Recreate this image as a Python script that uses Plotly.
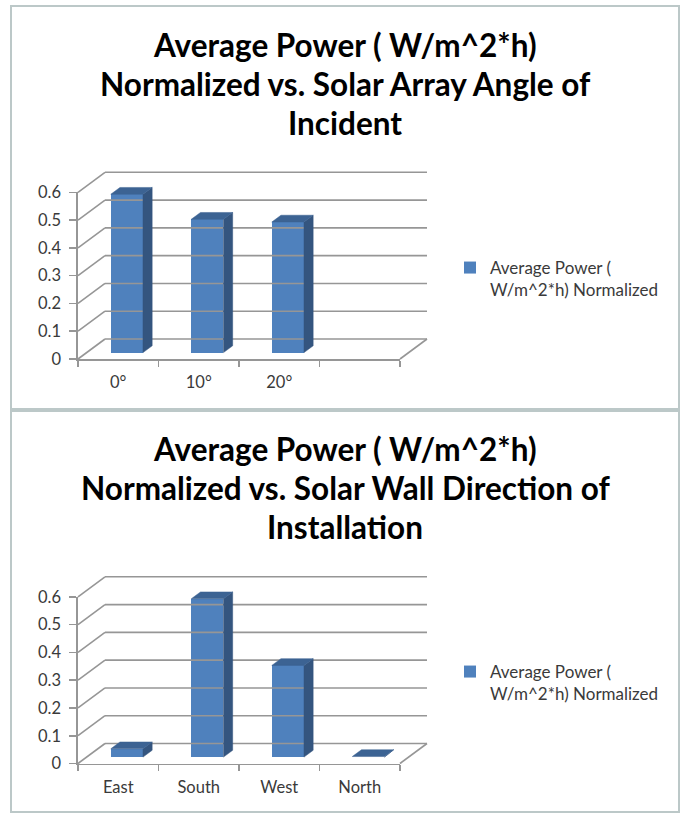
import plotly.graph_objects as go

# ---------------- data ----------------
angle_labels = ["0°", "10°", "20°", ""]
angle_power = [0.57, 0.48, 0.47, None]

direction_labels = ["East", "South", "West", "North"]
direction_power = [0.03, 0.57, 0.33, 0.002]

y_tick_vals = [0, 0.1, 0.2, 0.3, 0.4, 0.5, 0.6]
y_tick_text = ["0", "0.1", "0.2", "0.3", "0.4", "0.5", "0.6"]

series_name = "Average Power (<br>W/m^2*h) Normalized"
title_lines = [
    ["Average Power ( W/m^2*h)", "Normalized vs. Solar Array Angle of", "Incident"],
    ["Average Power ( W/m^2*h)", "Normalized vs. Solar Wall Direction of", "Installation"],
]

# ---------------- style / geometry ----------------
W, H = 684, 814
X0 = 78.0          # px of front-left axis
SX = 80.5          # px per category slot
SY = 277.8         # px per unit value
ZERO_PY = [359.0, 763.5]
TITLE_PY = [[45.0, 84.0, 123.0], [449.0, 488.0, 527.0]]
LEGEND_PY = [250.0, 654.0]
BOX_PY = [(6, 409), (411, 812)]
DXP, DYP = 27.0, 20.0   # oblique depth offset in px
F0, F1 = 0.32, 0.66     # bar depth start / end (fraction of depth)
BAR_W = 0.40

FRONT = "#4F81BD"
SIDE = "#34557F"
TOP = "#3C6393"
GRID = "#969696"
GRID_W = 1.6
FONT = "Lato"
TXT = "#3a3a3a"

dxu = DXP / SX
dyu = DYP / SY


def px_x(p):
    return p / W


def px_y(p):
    return 1 - p / H


fig = go.Figure()
layout = {}
shapes = []
annotations = []

charts = [(angle_labels, angle_power), (direction_labels, direction_power)]
n_slots = 4

for k, (labels, values) in enumerate(charts):
    Z = ZERO_PY[k]
    dx_id = 2 * k + 1
    lx_id = 2 * k + 2
    dname = "" if dx_id == 1 else str(dx_id)
    lname = str(lx_id)

    # drawing axes (invisible, same scale as label axes)
    pad_l, pad_b = 14.0, 14.0
    x_hi = n_slots + 0.7
    y_hi = 0.8
    layout["xaxis" + dname] = dict(
        domain=[px_x(X0 - pad_l), px_x(X0 + x_hi * SX)],
        range=[-pad_l / SX, x_hi], visible=False, fixedrange=True,
        anchor="y" + dname,
    )
    layout["yaxis" + dname] = dict(
        domain=[px_y(Z + pad_b), px_y(Z - y_hi * SY)],
        range=[-pad_b / SY, y_hi], visible=False, fixedrange=True,
        anchor="x" + dname,
    )
    # label axes (front face of the 3D box)
    layout["xaxis" + lname] = dict(
        domain=[px_x(X0), px_x(X0 + n_slots * SX)],
        range=[0, n_slots], anchor="y" + lname, fixedrange=True,
        showline=True, linecolor=GRID, linewidth=GRID_W,
        showgrid=False, zeroline=False,
        tickmode="array", tickvals=[i + 0.5 for i in range(n_slots)],
        ticktext=labels, ticks="",
        minor=dict(tickmode="array", tickvals=list(range(n_slots + 1)),
                   ticks="outside", ticklen=6, tickcolor=GRID, tickwidth=GRID_W,
                   showgrid=False),
        tickfont=dict(family=FONT, size=16.5, color=TXT),
        ticklabelstandoff=8,
    )
    layout["yaxis" + lname] = dict(
        domain=[px_y(Z), px_y(Z - 0.6 * SY)],
        range=[0, 0.6], anchor="x" + lname, fixedrange=True,
        showline=True, linecolor=GRID, linewidth=GRID_W,
        showgrid=False, zeroline=False,
        tickmode="array", tickvals=y_tick_vals, ticktext=y_tick_text,
        ticks="outside", ticklen=7, tickcolor=GRID, tickwidth=GRID_W,
        tickfont=dict(family=FONT, size=16.5, color=TXT),
        ticklabelstandoff=5,
    )

    # walls and floor lines
    gx, gy = [], []
    for v in y_tick_vals:
        gx += [dxu, n_slots + dxu, None, 0, dxu, None]
        gy += [v + dyu, v + dyu, None, v, v + dyu, None]
    gx += [n_slots, n_slots + dxu, None]
    gy += [0, dyu, None]
    fig.add_trace(go.Scatter(
        x=gx, y=gy, mode="lines", line=dict(color=GRID, width=GRID_W),
        xaxis="x" + dname, yaxis="y" + dname, showlegend=False, hoverinfo="skip",
    ))

    # bars
    bx, by, bb = [], [], []
    sx, sy, tx, ty = [], [], [], []
    for i, v in enumerate(values):
        if v is None:
            continue
        xc = i + 0.5 + F0 * dxu
        b = F0 * dyu
        bx.append(xc)
        by.append(v)
        bb.append(b)
        ddx = (F1 - F0) * dxu
        ddy = (F1 - F0) * dyu
        xr = xc + BAR_W / 2
        xl = xc - BAR_W / 2
        top = v + b
        sx += [xr, xr + ddx, xr + ddx, xr, xr, None]
        sy += [b, b + ddy, top + ddy, top, b, None]
        tx += [xl, xr, xr + ddx, xl + ddx, xl, None]
        ty += [top, top, top + ddy, top + ddy, top, None]

    fig.add_trace(go.Bar(
        x=bx, y=by, base=bb, width=BAR_W, marker=dict(color=FRONT, line=dict(width=0)),
        name=series_name, xaxis="x" + dname, yaxis="y" + dname,
        legend="legend" if k == 0 else "legend2", showlegend=True,
    ))
    fig.add_trace(go.Scatter(
        x=sx, y=sy, mode="lines", fill="toself", fillcolor=SIDE,
        line=dict(color=SIDE, width=0.5),
        xaxis="x" + dname, yaxis="y" + dname, showlegend=False, hoverinfo="skip",
    ))
    fig.add_trace(go.Scatter(
        x=tx, y=ty, mode="lines", fill="toself", fillcolor=TOP,
        line=dict(color=TOP, width=0.5),
        xaxis="x" + dname, yaxis="y" + dname, showlegend=False, hoverinfo="skip",
    ))
    # dummy trace so the label subplot is drawn
    fig.add_trace(go.Scatter(
        x=[None], y=[None], xaxis="x" + lname, yaxis="y" + lname,
        showlegend=False, hoverinfo="skip",
    ))

    # chart box
    y0, y1 = BOX_PY[k]
    shapes.append(dict(
        type="rect", xref="paper", yref="paper", layer="below",
        x0=px_x(11), x1=px_x(679), y0=px_y(y1), y1=px_y(y0),
        line=dict(color="#bcc8c8", width=2), fillcolor="white",
    ))
    for line_text, ly in zip(title_lines[k], TITLE_PY[k]):
        annotations.append(dict(
            text=line_text, xref="paper", yref="paper", x=px_x(345), y=px_y(ly),
            xanchor="center", yanchor="middle", showarrow=False,
            font=dict(family=FONT, size=31.5, color="#000000", weight="bold"),
        ))

legend_common = dict(
    xanchor="left", yanchor="top", bgcolor="rgba(0,0,0,0)",
    font=dict(family=FONT, size=17, color=TXT), valign="top",
    itemwidth=30, tracegroupgap=0,
)
layout["legend"] = dict(x=px_x(450), y=px_y(LEGEND_PY[0]), **legend_common)
layout["legend2"] = dict(x=px_x(450), y=px_y(LEGEND_PY[1]), **legend_common)

fig.update_layout(
    width=W, height=H,
    margin=dict(l=0, r=0, t=0, b=0, autoexpand=False),
    paper_bgcolor="white", plot_bgcolor="rgba(0,0,0,0)",
    shapes=shapes, annotations=annotations, bargap=0,
    **layout,
)

fig.write_html(
    "out.html",
    config={"displayModeBar": False, "staticPlot": True},
    post_script="document.body.style.margin='0';",
)
